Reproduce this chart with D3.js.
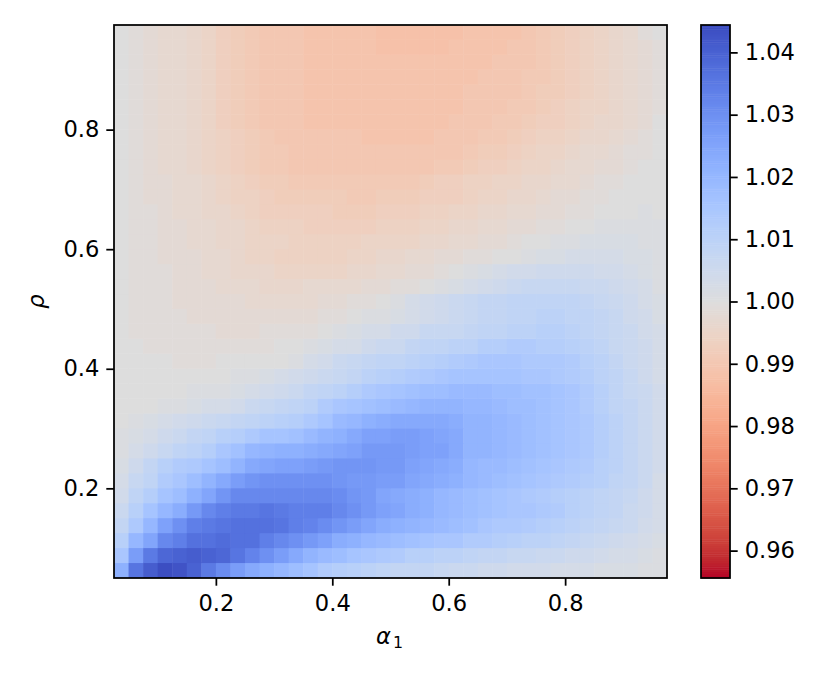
<!DOCTYPE html>
<html>
<head>
<meta charset="utf-8">
<script src="https://cdn.jsdelivr.net/npm/d3@7"></script>
<style>
    html, body { margin: 0; padding: 0; background: #fff; }
    svg { display: block; }
    text { font-family: "DejaVu Sans"; fill: #000; }
</style>
</head>
<body>
<script>
// left edge of each column and lower edge of each row
const alphaEdges = [0.025, 0.05, 0.075, 0.1, 0.125, 0.15, 0.175, 0.2, 0.225, 0.25, 0.275, 0.3, 0.325, 0.35, 0.375, 0.4, 0.425, 0.45, 0.475, 0.5,
    0.525, 0.55, 0.575, 0.6, 0.625, 0.65, 0.675, 0.7, 0.725, 0.75, 0.775, 0.8, 0.825, 0.85, 0.875, 0.9, 0.925, 0.95];
const rhoEdges = [0.05, 0.075, 0.1, 0.125, 0.15, 0.175, 0.2, 0.225, 0.25, 0.275, 0.3, 0.325, 0.35, 0.375, 0.4, 0.425, 0.45, 0.475, 0.5,
    0.525, 0.55, 0.575, 0.6, 0.625, 0.65, 0.675, 0.7, 0.725, 0.75, 0.775, 0.8, 0.825, 0.85, 0.875, 0.9, 0.925, 0.95];

// in thousandths away from 1.0, bottom row first
const cellOffsets = [
    [22,36,41,44,43,40,35,31,27,24,22,20,18,16,13,12,11,10,9,8,8,8,7,6,6,5,5,4,4,4,3,3,3,2,2,2,1,1],
    [15,27,35,39,40,41,40,39,36,33,30,27,24,21,19,18,16,15,14,13,11,11,10,10,9,8,8,7,7,6,6,5,5,4,3,3,2,1],
    [11,20,25,32,34,37,37,38,37,37,34,32,30,28,26,23,22,20,19,18,17,16,15,15,13,13,12,11,10,10,9,8,7,6,5,4,3,2],
    [8,14,20,26,30,34,35,36,37,37,37,36,34,33,31,29,27,25,23,22,21,20,19,18,17,15,14,14,13,12,11,10,9,8,7,6,4,3],
    [6,11,16,20,23,28,32,34,35,35,36,35,34,34,34,32,30,28,26,25,23,22,20,19,18,17,16,15,15,14,13,11,10,9,8,6,5,3],
    [4,9,12,16,18,22,25,29,32,32,32,32,32,32,32,31,29,28,25,24,23,22,20,19,18,17,16,15,14,13,12,11,10,9,8,7,5,3],
    [3,7,9,13,15,18,21,24,27,29,30,30,30,30,30,29,28,28,27,27,25,24,23,22,20,19,18,17,16,15,14,13,12,11,9,8,6,3],
    [2,5,8,11,13,14,16,18,21,24,25,26,26,27,28,29,29,29,28,28,26,25,24,23,20,19,19,18,17,16,15,14,13,11,10,8,6,4],
    [1,3,5,7,9,10,12,15,17,20,21,22,22,23,24,25,26,28,28,28,27,26,26,24,21,21,20,19,18,17,16,15,14,12,10,8,6,4],
    [1,2,3,5,6,8,9,11,12,14,16,16,17,19,21,22,24,26,26,27,27,26,25,24,21,21,20,19,18,17,16,15,14,12,10,8,6,4],
    [0,1,2,3,4,5,6,7,8,9,10,11,12,14,16,19,20,22,23,24,24,24,24,23,21,21,20,19,18,17,16,15,14,12,10,8,6,4],
    [0,0,0,1,1,2,3,3,4,6,7,8,9,10,13,15,16,17,18,19,20,21,21,21,20,20,19,18,18,17,16,15,13,11,9,8,6,4],
    [0,0,0,0,0,1,1,1,2,3,4,5,6,8,9,10,12,14,15,16,17,18,18,19,19,19,18,18,17,17,16,15,13,11,9,7,6,4],
    [0,0,0,0,0,0,0,0,1,1,2,3,4,5,6,7,8,10,11,12,13,14,15,16,16,16,16,16,15,15,14,13,12,10,9,7,5,3],
    [0,0,0,0,-1,-1,-1,0,0,0,0,0,1,3,4,6,7,8,9,9,10,11,12,13,14,15,15,15,14,14,14,13,11,10,8,6,5,3],
    [0,0,-1,-1,-1,-1,-1,-1,-1,-1,-1,0,0,1,2,3,3,5,6,6,8,9,9,10,10,12,12,13,13,12,12,11,10,9,7,6,5,3],
    [0,-1,-1,-1,-1,-1,-1,-2,-2,-2,-1,-1,-1,-1,0,1,2,3,3,5,5,7,7,7,8,9,9,10,10,11,11,10,9,8,7,6,4,3],
    [0,-1,-1,-1,-1,-2,-2,-2,-2,-2,-2,-2,-2,-2,-1,-1,0,1,1,2,3,4,5,6,7,8,8,9,9,10,10,9,9,8,7,5,4,2],
    [0,-1,-1,-1,-2,-2,-2,-2,-2,-3,-3,-3,-3,-3,-2,-2,-1,-1,0,1,3,4,5,6,7,8,8,9,9,9,9,9,8,7,6,5,3,2],
    [0,-1,-1,-1,-2,-2,-2,-3,-3,-3,-4,-4,-4,-3,-3,-3,-3,-2,-2,-1,-1,0,1,2,3,4,5,6,7,7,7,7,6,6,5,4,3,1],
    [0,-1,-1,-1,-2,-2,-3,-3,-4,-4,-4,-5,-5,-5,-5,-5,-4,-4,-3,-3,-2,-2,-1,0,1,2,3,4,4,5,5,5,5,4,4,3,2,1],
    [0,-1,-1,-2,-2,-2,-3,-3,-4,-5,-5,-6,-6,-6,-6,-6,-5,-5,-4,-4,-3,-3,-2,-2,-1,-1,0,0,1,2,2,3,3,3,3,2,2,1],
    [0,-1,-1,-2,-2,-3,-3,-4,-4,-5,-5,-5,-6,-6,-6,-6,-6,-5,-5,-5,-5,-4,-4,-3,-3,-2,-2,-1,0,0,1,1,2,2,2,2,1,1],
    [0,-1,-1,-2,-2,-3,-3,-4,-4,-5,-6,-6,-6,-7,-7,-7,-7,-7,-6,-6,-6,-5,-5,-4,-4,-3,-3,-2,-2,-1,-1,0,0,1,1,1,1,1],
    [0,-1,-1,-2,-3,-3,-4,-4,-5,-6,-7,-7,-7,-7,-7,-8,-8,-8,-7,-7,-7,-6,-6,-5,-5,-4,-4,-3,-3,-2,-2,-1,-1,0,0,0,1,0],
    [0,-1,-2,-2,-3,-3,-4,-5,-6,-6,-7,-8,-8,-8,-8,-8,-9,-9,-8,-8,-8,-7,-7,-7,-6,-5,-5,-4,-4,-3,-2,-2,-1,-1,0,0,0,0],
    [0,-1,-2,-2,-3,-3,-4,-5,-6,-7,-8,-8,-9,-9,-9,-9,-9,-9,-9,-9,-9,-8,-7,-7,-6,-6,-5,-5,-4,-4,-3,-3,-2,-1,-1,0,0,0],
    [0,-1,-2,-3,-3,-4,-5,-6,-7,-8,-9,-9,-10,-10,-10,-10,-10,-10,-10,-10,-10,-10,-9,-9,-8,-7,-7,-6,-5,-5,-4,-3,-3,-2,-2,-1,0,0],
    [0,-1,-2,-3,-3,-4,-5,-6,-7,-8,-9,-9,-10,-10,-10,-10,-10,-10,-10,-10,-10,-10,-10,-10,-9,-8,-8,-7,-6,-5,-5,-4,-3,-3,-2,-1,-1,0],
    [0,-1,-2,-3,-3,-4,-5,-6,-7,-8,-9,-10,-10,-10,-10,-10,-10,-11,-11,-11,-11,-11,-10,-10,-10,-9,-9,-8,-7,-6,-6,-5,-4,-4,-3,-2,-1,0],
    [0,-1,-2,-3,-3,-4,-5,-7,-8,-9,-10,-10,-10,-11,-11,-11,-11,-11,-11,-11,-11,-11,-11,-10,-10,-10,-9,-9,-8,-7,-7,-6,-5,-4,-4,-3,-2,0],
    [0,-1,-2,-3,-3,-4,-5,-7,-8,-9,-10,-10,-10,-11,-11,-11,-11,-11,-11,-11,-11,-11,-11,-11,-10,-10,-10,-9,-9,-8,-7,-6,-5,-5,-4,-3,-2,-1],
    [0,-1,-2,-3,-3,-4,-5,-7,-8,-9,-10,-10,-10,-11,-11,-11,-11,-11,-11,-11,-11,-11,-11,-11,-10,-10,-10,-10,-9,-8,-8,-7,-6,-5,-4,-3,-2,-1],
    [0,-1,-2,-3,-3,-4,-5,-7,-8,-9,-10,-10,-10,-11,-11,-11,-11,-11,-11,-11,-11,-11,-11,-11,-11,-10,-10,-10,-9,-9,-8,-7,-6,-5,-4,-3,-2,-1],
    [0,-1,-2,-3,-3,-4,-5,-7,-8,-9,-10,-10,-10,-11,-11,-11,-11,-11,-11,-11,-11,-11,-11,-11,-11,-11,-10,-10,-10,-9,-8,-7,-6,-5,-4,-3,-2,-1],
    [0,-1,-2,-3,-3,-4,-5,-7,-8,-9,-10,-10,-10,-11,-11,-11,-11,-11,-12,-12,-12,-12,-12,-11,-11,-11,-11,-10,-10,-9,-8,-7,-6,-5,-4,-3,-2,-1],
    [0,-1,-2,-3,-3,-4,-5,-7,-8,-9,-10,-10,-10,-11,-11,-11,-11,-11,-12,-12,-12,-12,-12,-12,-11,-11,-11,-11,-10,-9,-8,-7,-6,-5,-4,-3,-1,0]
];

const xTicks = [0.2, 0.4, 0.6, 0.8];
const yTicks = [0.2, 0.4, 0.6, 0.8];
const barTicks = [0.96, 0.97, 0.98, 0.99, 1.0, 1.01, 1.02, 1.03, 1.04];

// coolwarm colormap, red end first since the value axis runs low to high (reversed map)
const coolwarmStops = ["#b40426", "#c0282f", "#cb3e38", "#d55042", "#de604d", "#e57058", "#ec7f63", "#f18d6f", "#f49a7b",
    "#f7a687", "#f7b194", "#f7bba0", "#f5c4ad", "#f1ccb9", "#ecd3c5", "#e5d8d1", "#dddddd", "#d5dbe6", "#ccd9ee", "#c2d5f4",
    "#b8d0f9", "#aec9fd", "#a3c2ff", "#98b9ff", "#8db0fe", "#82a5fb", "#779af7", "#6c8ef1", "#6282ea", "#5775e1", "#4d68d7", "#445acc", "#3b4cc0"];

const vMin = 0.9556;
const vMax = 1.0444;

const width = 830;
const height = 678;
const plot = { left: 114, right: 667, top: 25, bottom: 578 };
const bar = { left: 701, right: 730 };
const lineW = 1.75;
const tickLen = 7.7;
const fontSize = 22.6;
const seam = 0.5; // cells overlap a little so only a faint line shows between them

const svg = d3.select("body").append("svg")
    .attr("width", width)
    .attr("height", height);

const x = d3.scaleLinear().domain([0.025, 0.975]).range([plot.left, plot.right]);
const y = d3.scaleLinear().domain([0.05, 0.975]).range([plot.bottom, plot.top]);
const barY = d3.scaleLinear().domain([vMin, vMax]).range([plot.bottom, plot.top]);

const color = d3.scaleLinear()
    .domain(coolwarmStops.map((_, i) => vMin + (vMax - vMin) * i / (coolwarmStops.length - 1)))
    .range(coolwarmStops);

const cells = cellOffsets.flatMap((row, r) => row.map((v, c) => ({
    alpha: alphaEdges[c],
    rho: rhoEdges[r],
    value: 1 + v / 1000
})));

svg.append("clipPath")
    .attr("id", "plot-clip")
    .append("rect")
    .attr("x", plot.left)
    .attr("y", plot.top)
    .attr("width", plot.right - plot.left)
    .attr("height", plot.bottom - plot.top);

svg.append("g")
    .attr("clip-path", "url(#plot-clip)")
    .selectAll("rect")
    .data(cells)
    .join("rect")
    .attr("x", d => x(d.alpha))
    .attr("y", d => y(d.rho + 0.025) - seam)
    .attr("width", d => x(d.alpha + 0.025) - x(d.alpha) + seam)
    .attr("height", d => y(d.rho) - y(d.rho + 0.025) + seam)
    .attr("fill", d => color(d.value));

function styleAxis(g) {
    g.select(".domain").remove();
    g.selectAll("line").attr("stroke", "#000").attr("stroke-width", lineW);
    g.selectAll("text").attr("font-size", fontSize).attr("font-family", "DejaVu Sans");
}

svg.append("g")
    .attr("transform", `translate(0,${plot.bottom})`)
    .call(d3.axisBottom(x).tickValues(xTicks).tickFormat(d3.format(".1f")).tickSize(tickLen).tickPadding(9))
    .call(styleAxis);

svg.append("g")
    .attr("transform", `translate(${plot.left},0)`)
    .call(d3.axisLeft(y).tickValues(yTicks).tickFormat(d3.format(".1f")).tickSize(tickLen).tickPadding(7))
    .call(styleAxis);

svg.append("rect")
    .attr("x", plot.left)
    .attr("y", plot.top)
    .attr("width", plot.right - plot.left)
    .attr("height", plot.bottom - plot.top)
    .attr("fill", "none")
    .attr("stroke", "#000")
    .attr("stroke-width", lineW);

// axis labels, mathtext style
const xLabel = svg.append("text")
    .attr("x", 376)
    .attr("y", 644)
    .attr("font-size", fontSize);
xLabel.append("tspan").attr("font-style", "italic").text("α");
xLabel.append("tspan").attr("dx", 2).attr("dy", 4).attr("font-size", fontSize * 0.7).text("1");

svg.append("text")
    .attr("transform", `translate(44,${(plot.top + plot.bottom) / 2}) rotate(-90)`)
    .attr("text-anchor", "middle")
    .attr("font-size", fontSize)
    .attr("font-style", "italic")
    .text("ρ");

// colorbar
const barLevels = d3.range(256).map(i => vMin + (vMax - vMin) * i / 255);

svg.append("g")
    .selectAll("rect")
    .data(barLevels)
    .join("rect")
    .attr("x", bar.left)
    .attr("y", (d, i) => barY(vMin + (vMax - vMin) * (i + 1) / 256))
    .attr("width", bar.right - bar.left)
    .attr("height", (plot.bottom - plot.top) / 256 + 0.5)
    .attr("fill", d => color(d));

svg.append("rect")
    .attr("x", bar.left)
    .attr("y", plot.top)
    .attr("width", bar.right - bar.left)
    .attr("height", plot.bottom - plot.top)
    .attr("fill", "none")
    .attr("stroke", "#000")
    .attr("stroke-width", lineW);

svg.append("g")
    .attr("transform", `translate(${bar.right},0)`)
    .call(d3.axisRight(barY).tickValues(barTicks).tickFormat(d3.format(".2f")).tickSize(tickLen).tickPadding(7))
    .call(styleAxis);
</script>
</body>
</html>
